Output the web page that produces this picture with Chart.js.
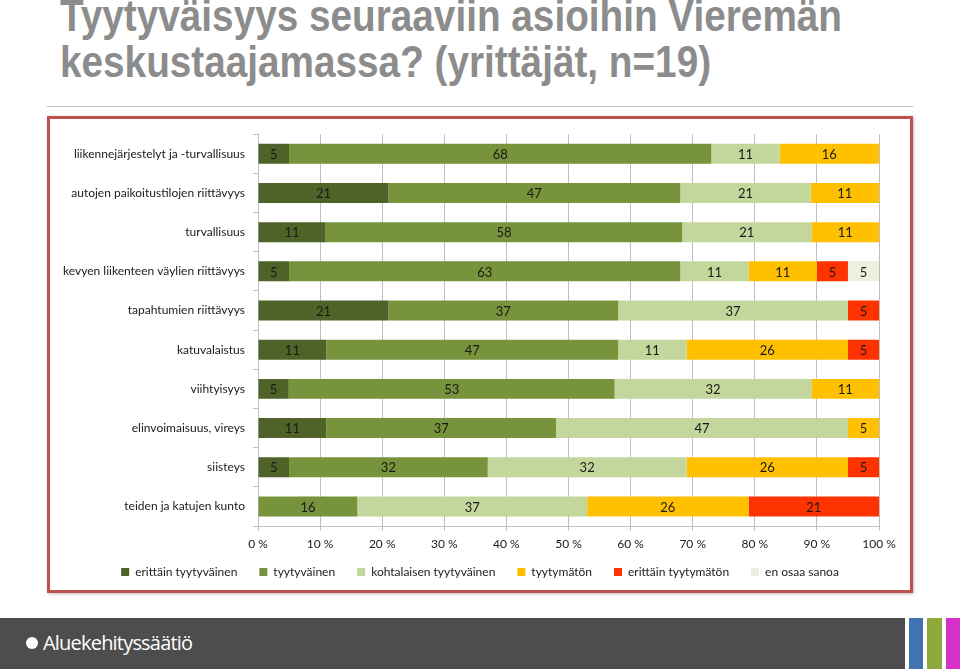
<!DOCTYPE html>
<html>
<head>
<meta charset="utf-8">
<script src="https://cdn.jsdelivr.net/npm/chart.js@4.4.0/dist/chart.umd.min.js"></script>
<style>
  body { margin: 0; width: 960px; height: 669px; background: #fff; overflow: hidden; position: relative; font-family: Lato, sans-serif; }
  #title { position: absolute; left: 60px; top: -7px; margin: 0; font-family: "Liberation Sans Narrow", "Liberation Sans", sans-serif; font-weight: bold; font-size: 44px; line-height: 46px; color: #8c8c8c; transform: scaleX(0.88); transform-origin: 0 0; white-space: nowrap; }
  #rule { position: absolute; left: 47px; top: 106px; width: 866px; height: 1px; background: #bfbfbf; }
  #box { position: absolute; left: 47px; top: 116px; width: 860px; height: 471px; border: 3px solid #c0504d; box-shadow: 1px 1px 3px rgba(0,0,0,0.25); }
  #wrap { position: absolute; left: 0; top: 0; width: 860px; height: 471px; }
  #footer { position: absolute; left: 0; top: 618px; width: 905px; height: 51px; background: #4d4d4d; }
  #dot { position: absolute; left: 26px; top: 19px; width: 12px; height: 12px; border-radius: 50%; background: #fff; }
  #logo { position: absolute; left: 43px; top: 11px; color: #fff; font-family: "Open Sans", sans-serif; font-size: 20px; letter-spacing: -0.8px; }
  .strip { position: absolute; top: 618px; height: 51px; }
</style>
</head>
<body>
<h1 id="title">Tyytyväisyys seuraaviin asioihin Vieremän<br>keskustaajamassa? (yrittäjät, n=19)</h1>
<div id="rule"></div>
<div id="box"><div id="wrap"><canvas id="chart"></canvas></div></div>
<div id="footer"><div id="dot"></div><div id="logo">Aluekehityssäätiö</div></div>
<div class="strip" style="left:909px;width:14px;background:#4273b1"></div>
<div class="strip" style="left:927px;width:15px;background:#8ea93c"></div>
<div class="strip" style="left:946px;width:14px;background:#d531c8"></div>
<script>
var categories = [
  'liikennejärjestelyt ja -turvallisuus',
  'autojen paikoitustilojen riittävyys',
  'turvallisuus',
  'kevyen liikenteen väylien riittävyys',
  'tapahtumien riittävyys',
  'katuvalaistus',
  'viihtyisyys',
  'elinvoimaisuus, vireys',
  'siisteys',
  'teiden ja katujen kunto'
];
var seriesNames = ['erittäin tyytyväinen', 'tyytyväinen', 'kohtalaisen tyytyväinen', 'tyytymätön', 'erittäin tyytymätön', 'en osaa sanoa'];
var erittainTyytyvainen = [5, 21, 11, 5, 21, 11, 5, 11, 5, 0];
var tyytyvainen = [68, 47, 58, 63, 37, 47, 53, 37, 32, 16];
var kohtalaisen = [11, 21, 21, 11, 37, 11, 32, 47, 32, 37];
var tyytymaton = [16, 11, 11, 11, 0, 26, 11, 5, 26, 26];
var erittainTyytymaton = [0, 0, 0, 5, 5, 5, 0, 0, 5, 21];
var enOsaa = [0, 0, 0, 5, 0, 0, 0, 0, 0, 0];
var colors = ['#4f6228', '#77933c', '#c3d69b', '#ffc000', '#ff3300', '#ebf1de'];

var raw = [erittainTyytyvainen, tyytyvainen, kohtalaisen, tyytymaton, erittainTyytymaton, enOsaa];
// each row is drawn as 100 % stacked, so scale by the row total
var totals = categories.map(function(c, i) {
  var s = 0;
  for (var k = 0; k < raw.length; k++) s += raw[k][i];
  return s;
});

var datasets = raw.map(function(vals, k) {
  return {
    label: seriesNames[k],
    data: vals.map(function(v, i) { return v / totals[i] * 100; }),
    raw: vals,
    backgroundColor: colors[k],
    borderWidth: 0,
    barPercentage: 0.51,
    categoryPercentage: 1
  };
});

var labelPlugin = {
  id: 'barLabels',
  afterDatasetsDraw: function(chart) {
    var ctx = chart.ctx;
    ctx.save();
    ctx.font = '13px Lato, sans-serif';
    ctx.fillStyle = '#1a1a1a';
    ctx.textAlign = 'center';
    ctx.textBaseline = 'middle';
    chart.data.datasets.forEach(function(ds, k) {
      chart.getDatasetMeta(k).data.forEach(function(bar, i) {
        var v = ds.raw[i];
        if (!v) return;
        ctx.fillText(String(v), (bar.x + bar.base) / 2, bar.y + 1);
      });
    });
    ctx.restore();
  }
};

// legend: keep it compact in the layout, centre it on the whole canvas
var legendPlace = {
  id: 'legendPlace',
  beforeLayout: function(chart) {
    var lg = chart.legend;
    if (lg && !lg._patched) {
      var fit = lg.fit;
      lg.fit = function() { fit.apply(this, arguments); this.height = 31; };
      lg._patched = true;
    }
  },
  afterLayout: function(chart) {
    var lg = chart.legend;
    if (!lg) return;
    lg.left = 0;
    lg.right = chart.width;
    lg.width = chart.width;
    lg.top = chart.chartArea.bottom + 18;
    lg.bottom = lg.top + 40;
  }
};

new Chart(document.getElementById('chart'), {
  type: 'bar',
  data: { labels: categories, datasets: datasets },
  plugins: [labelPlugin, legendPlace],
  options: {
    indexAxis: 'y',
    responsive: true,
    maintainAspectRatio: false,
    animation: false,
    layout: { padding: { left: 0, right: 31, top: 13, bottom: 1 } },
    scales: {
      x: {
        stacked: true,
        min: 0,
        max: 100,
        ticks: {
          stepSize: 10,
          color: '#1a1a1a',
          font: { family: 'Lato', size: 12 },
          padding: 6,
          callback: function(v) { return v + ' %'; }
        },
        grid: { color: '#bfbfbf', tickLength: 5 },
        border: { color: '#bfbfbf' },
        afterFit: function(s) { s.height = 32; }
      },
      y: {
        stacked: true,
        ticks: { color: '#1a1a1a', font: { family: 'Lato', size: 12 }, padding: 8 },
        grid: { drawOnChartArea: false, color: '#bfbfbf', tickLength: 5 },
        border: { color: '#bfbfbf' },
        afterFit: function(s) { s.width = 208; }
      }
    },
    plugins: {
      legend: {
        position: 'bottom',
        labels: {
          color: '#1a1a1a',
          font: { family: 'Lato', size: 12 },
          boxWidth: 8,
          boxHeight: 8,
          padding: 22
        }
      },
      tooltip: { enabled: false }
    }
  }
});
</script>
</body>
</html>
